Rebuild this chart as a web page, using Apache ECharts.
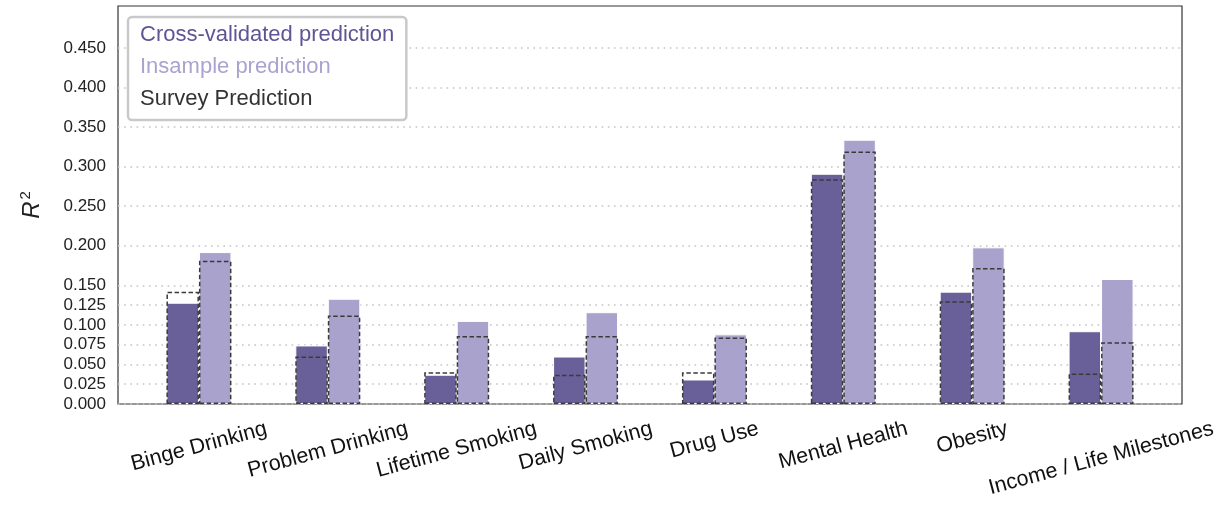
<!DOCTYPE html>
<html>
<head>
<meta charset="utf-8">
<script src="https://cdn.jsdelivr.net/npm/echarts@6/dist/echarts.min.js"></script>
<style>
  html, body { margin: 0; padding: 0; background: #fff; }
  #chart { width: 1231px; height: 506px; }
</style>
</head>
<body>
<div id="chart"></div>
<script>
// R^2 per outcome
const categories = ['Binge Drinking', 'Problem Drinking', 'Lifetime Smoking', 'Daily Smoking',
  'Drug Use', 'Mental Health', 'Obesity', 'Income / Life Milestones'];
const crossValidated = [0.128, 0.074, 0.037, 0.060, 0.031, 0.291, 0.142, 0.092];
const inSample = [0.192, 0.133, 0.105, 0.116, 0.088, 0.334, 0.198, 0.158];
const surveyCrossValidated = [0.142, 0.060, 0.040, 0.037, 0.040, 0.284, 0.130, 0.0385];
const surveyInSample = [0.181, 0.112, 0.086, 0.086, 0.084, 0.319, 0.172, 0.078];
const yTicks = [0, 0.025, 0.05, 0.075, 0.1, 0.125, 0.15, 0.2, 0.25, 0.3, 0.35, 0.4, 0.45];

const FONT = '"Liberation Sans", Arial, Helvetica, sans-serif';
const DARK = '#6a6099';
const LIGHT = '#a8a2cd';
const Y_MAX = 0.503;

// Rotated category labels: centre each rotated box under its bars with a common top edge.
// The line height pushes the text down along the rotated frame, the right padding
// pulls it back so the box centre stays under the bar pair.
const LABEL_SIZE = 21.5;
const ROT = 15 * Math.PI / 180;
const LABEL_MARGIN = 8;
const measureCtx = document.createElement('canvas').getContext('2d');
measureCtx.font = LABEL_SIZE + 'px ' + FONT;
const xLabels = categories.map(function (name) {
  const w = measureCtx.measureText(name).width;
  const d = 16.5 + w * Math.sin(ROT) / 2;     // downward shift of the label centre
  const b = d * Math.cos(ROT);
  const a = d * Math.sin(ROT);
  return {
    value: name,
    textStyle: {
      align: 'center', verticalAlign: 'top',
      lineHeight: 2 * b,
      padding: [0, 2 * a, 0, 0]
    }
  };
});

const chart = echarts.init(document.getElementById('chart'), null, { renderer: 'canvas' });

chart.setOption({
  animation: false,
  backgroundColor: '#fff',
  legend: {
    left: 128, top: 17,
    orient: 'vertical',
    selectedMode: false,
    itemWidth: 0, itemHeight: 0,
    itemGap: 0,
    padding: [2, 12, 5, 6],
    backgroundColor: '#fff',
    borderColor: '#c9c9c9',
    borderWidth: 2.5,
    borderRadius: 4,
    textStyle: { fontSize: 22, fontFamily: FONT, lineHeight: 32 },
    data: [
      { name: 'Cross-validated prediction', textStyle: { color: '#5d5594' } },
      { name: 'Insample prediction', textStyle: { color: '#a9a4cf' } },
      { name: 'Survey Prediction', textStyle: { color: '#333333' } }
    ]
  },
  grid: [
    { // frame, grid lines, y scale
      left: 118, right: 49, top: 6, bottom: 102,
      show: true, borderColor: '#333', borderWidth: 1.2, backgroundColor: 'transparent',
      outerBoundsMode: 'none'
    },
    { // bars
      left: 134.5, right: 65.5, top: 6, bottom: 102,
      outerBoundsMode: 'none'
    }
  ],
  xAxis: [
    { type: 'value', gridIndex: 0, show: false, min: 0, max: 1 },
    {
      type: 'category', gridIndex: 1, data: xLabels,
      axisLine: { show: false }, axisTick: { show: false },
      axisLabel: {
        interval: 0, rotate: 15, margin: LABEL_MARGIN,
        fontSize: LABEL_SIZE, fontFamily: FONT, color: '#111'
      }
    },
    { type: 'category', gridIndex: 1, data: categories, show: false }
  ],
  yAxis: [
    {
      type: 'value', gridIndex: 0, min: 0, max: Y_MAX,
      name: '{r|R}{s|2}',
      nameLocation: 'middle', nameRotate: 90, nameGap: 72,
      nameTextStyle: {
        color: '#222',
        rich: {
          r: { fontSize: 24, fontStyle: 'italic', fontFamily: FONT, color: '#222' },
          s: { fontSize: 15, fontFamily: FONT, color: '#222', padding: [0, 0, 13, 2] }
        }
      },
      axisLine: { show: false },
      axisTick: { show: false, customValues: yTicks },
      axisLabel: {
        customValues: yTicks, margin: 12,
        fontSize: 17, fontFamily: FONT, color: '#222',
        formatter: function (v) { return v.toFixed(3); }
      },
      splitLine: { show: true, lineStyle: { color: '#c4c4c4', width: 1.6, type: [1.6, 4.6] } }
    },
    { type: 'value', gridIndex: 1, min: 0, max: Y_MAX, show: false, splitLine: { show: false } }
  ],
  series: [
    {
      name: 'Cross-validated prediction', type: 'bar',
      xAxisIndex: 1, yAxisIndex: 1, data: crossValidated,
      barWidth: 32.5, barGap: '0%', z: 2,
      itemStyle: { color: DARK, borderColor: '#fff', borderWidth: 1 }
    },
    {
      name: 'Insample prediction', type: 'bar',
      xAxisIndex: 1, yAxisIndex: 1, data: inSample,
      barWidth: 32.5, barGap: '0%', z: 2,
      itemStyle: { color: LIGHT, borderColor: '#fff', borderWidth: 1 }
    },
    {
      name: 'Survey Prediction', type: 'bar',
      xAxisIndex: 2, yAxisIndex: 1, data: surveyCrossValidated,
      barWidth: 32.5, barGap: '0%', z: 3,
      itemStyle: { color: 'transparent', borderColor: '#3a3a3a', borderWidth: 1.5, borderType: [4.5, 2.5] }
    },
    {
      name: 'Survey Prediction', type: 'bar',
      xAxisIndex: 2, yAxisIndex: 1, data: surveyInSample,
      barWidth: 32.5, barGap: '0%', z: 3,
      itemStyle: { color: 'transparent', borderColor: '#3a3a3a', borderWidth: 1.5, borderType: [4.5, 2.5] }
    }
  ]
});
</script>
</body>
</html>
